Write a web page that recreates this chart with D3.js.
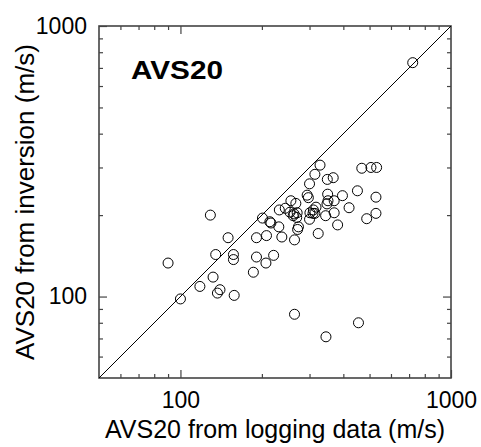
<!DOCTYPE html>
<html>
<head>
<meta charset="utf-8">
<script src="https://cdn.jsdelivr.net/npm/d3@7"></script>
<style>
  body { margin: 0; background: #fff; }
  text { font-family: "Liberation Sans", Arial, sans-serif; fill: #000; }
</style>
</head>
<body>
<div id="myPlot"></div>
<script>
// Set Dimensions
const xSize = 481;
const ySize = 447;
const plotLeft = 99, plotRight = 451, plotTop = 26, plotBottom = 378;

// Data
const logging = [722, 328, 468, 506, 531, 314, 349, 367, 300, 451,
  294, 297, 350, 397, 528, 256, 267, 370, 348, 351,
  317, 310, 420, 232, 244, 254, 263, 270, 301, 309,
  314, 344, 370, 528, 488, 201, 214, 216, 261, 269,
  300, 231, 273, 271, 381, 191, 208, 237, 264, 323,
  191, 207, 221, 186, 264, 455, 345, 129, 90, 150,
  135, 157, 157, 132, 118, 140, 137, 158, 100];
const inversion = [732, 306, 298, 300, 300, 283, 271, 275, 261, 246,
  237, 232, 239, 236, 233, 226, 221, 226, 220, 226,
  214, 209, 213, 209, 212, 205, 202, 204, 204, 203,
  203, 199, 204, 203, 194, 195, 189, 187, 199, 196,
  193, 181, 181, 177, 184, 165, 168, 166, 162, 171,
  140, 133, 142, 123, 86, 80, 71, 200, 133, 165,
  143, 143, 137, 118, 109, 106, 103, 101, 98];
const minorTicks = [60, 70, 80, 90, 200, 300, 400, 500, 600, 700, 800, 900];
const majorTicks = [100, 1000];
const extent = [50, 1000];

// Append SVG Object to the Page
const svg = d3.select("#myPlot")
  .append("svg")
  .attr("width", xSize)
  .attr("height", ySize);

// Scales
const x = d3.scaleLog().domain(extent).range([plotLeft, plotRight]);
const y = d3.scaleLog().domain(extent).range([plotBottom, plotTop]);

const fmt = d => d3.format("d")(d);

// bottom axis (ticks point inward)
svg.append("g")
  .attr("transform", `translate(0, ${plotBottom})`)
  .call(d3.axisBottom(x).tickValues(minorTicks).tickSize(-4).tickSizeOuter(0).tickFormat(""));
svg.append("g")
  .attr("class", "x-axis")
  .attr("transform", `translate(0, ${plotBottom})`)
  .style("font-size", "23px")
  .call(d3.axisBottom(x).tickValues(majorTicks).tickSize(-8).tickSizeOuter(0).tickPadding(14).tickFormat(fmt));

// top axis, ticks only
svg.append("g")
  .attr("transform", `translate(0, ${plotTop})`)
  .call(d3.axisTop(x).tickValues(minorTicks).tickSize(-4).tickSizeOuter(0).tickFormat(""));
svg.append("g")
  .attr("transform", `translate(0, ${plotTop})`)
  .call(d3.axisTop(x).tickValues([100]).tickSize(-8).tickSizeOuter(0).tickFormat(""));

// left axis
svg.append("g")
  .attr("transform", `translate(${plotLeft}, 0)`)
  .call(d3.axisLeft(y).tickValues(minorTicks).tickSize(-4).tickSizeOuter(0).tickFormat(""));
svg.append("g")
  .attr("class", "y-axis")
  .attr("transform", `translate(${plotLeft}, 0)`)
  .style("font-size", "23px")
  .call(d3.axisLeft(y).tickValues(majorTicks).tickSize(-8).tickSizeOuter(0).tickPadding(12).tickFormat(fmt));

// right axis, ticks only
svg.append("g")
  .attr("transform", `translate(${plotRight}, 0)`)
  .call(d3.axisRight(y).tickValues(minorTicks).tickSize(-4).tickSizeOuter(0).tickFormat(""));
svg.append("g")
  .attr("transform", `translate(${plotRight}, 0)`)
  .call(d3.axisRight(y).tickValues([100]).tickSize(-8).tickSizeOuter(0).tickFormat(""));

svg.selectAll(".domain").remove();
svg.selectAll(".tick line").attr("stroke", "#444").attr("stroke-width", 1.2);
svg.selectAll(".tick text").attr("fill", "#000").attr("font-family", "Liberation Sans, Arial, sans-serif");

// frame
svg.append("rect")
  .attr("x", plotLeft)
  .attr("y", plotTop)
  .attr("width", plotRight - plotLeft)
  .attr("height", plotBottom - plotTop)
  .attr("fill", "none")
  .attr("stroke", "#444")
  .attr("stroke-width", 1.6);

// 1:1 line
svg.append("line")
  .attr("x1", x(extent[0]))
  .attr("y1", y(extent[0]))
  .attr("x2", x(extent[1]))
  .attr("y2", y(extent[1]))
  .attr("stroke", "#000")
  .attr("stroke-width", 1);

// points
svg.append("g")
  .selectAll("circle")
  .data(logging.map((d, i) => [d, inversion[i]]))
  .enter()
  .append("circle")
  .attr("cx", d => x(d[0]))
  .attr("cy", d => y(d[1]))
  .attr("r", 5)
  .attr("fill", "none")
  .attr("stroke", "#000")
  .attr("stroke-width", 1);

// panel label
svg.append("text")
  .attr("x", 131)
  .attr("y", 79)
  .attr("textLength", 92)
  .attr("lengthAdjust", "spacingAndGlyphs")
  .style("font-size", "25px")
  .style("font-weight", "bold")
  .text("AVS20");

// x-axis label
svg.append("text")
  .attr("x", (plotLeft + plotRight) / 2)
  .attr("y", 438)
  .style("font-size", "25px")
  .style("text-anchor", "middle")
  .text("AVS20 from logging data (m/s)");

// y-axis label
svg.append("text")
  .attr("transform", `translate(34, ${(plotTop + plotBottom) / 2}) rotate(-90)`)
  .style("font-size", "26px")
  .style("text-anchor", "middle")
  .text("AVS20 from inversion (m/s)");
</script>
</body>
</html>
